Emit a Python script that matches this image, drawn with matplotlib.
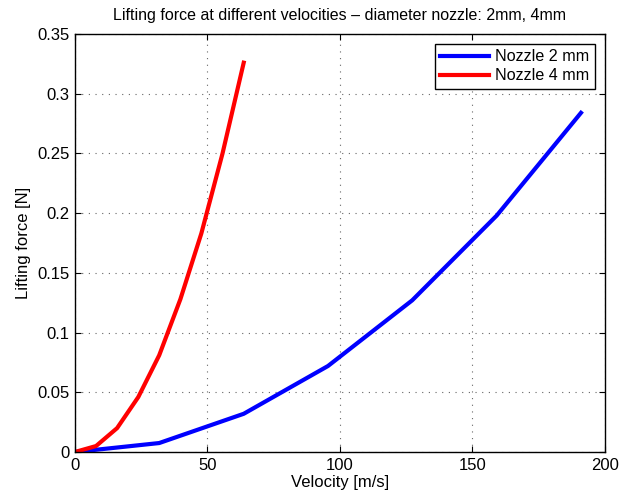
import matplotlib
matplotlib.use("Agg")
import matplotlib.pyplot as plt

plt.rcParams['font.family'] = ['Liberation Sans', 'DejaVu Sans']

# Velocity [m/s] and lifting force [N] for the two nozzle diameters
velocity_2mm = [0, 31.8, 63.7, 95.5, 127.3, 159.2, 191.0]
force_2mm = [0, 0.0075, 0.032, 0.072, 0.127, 0.198, 0.284]

velocity_4mm = [0, 7.96, 15.9, 23.9, 31.8, 39.8, 47.7, 55.7, 63.7]
force_4mm = [0, 0.005, 0.020, 0.046, 0.081, 0.128, 0.183, 0.250, 0.326]

x_ticks = [0, 50, 100, 150, 200]
y_ticks = [0, 0.05, 0.1, 0.15, 0.2, 0.25, 0.3, 0.35]
y_tick_labels = ['0', '0.05', '0.1', '0.15', '0.2', '0.25', '0.3', '0.35']

fig = plt.figure(figsize=(6.3, 5.0), dpi=100)
ax = fig.add_axes([0.119, 0.096, 0.841, 0.836])

ax.plot(velocity_2mm, force_2mm, color='#0000ff', lw=3.0, label='Nozzle 2 mm')
ax.plot(velocity_4mm, force_4mm, color='#ff0000', lw=3.0, label='Nozzle 4 mm')

ax.set_xlim(0, 200)
ax.set_ylim(0, 0.35)
ax.set_xticks(x_ticks)
ax.set_yticks(y_ticks)
ax.set_yticklabels(y_tick_labels)
ax.tick_params(direction='in', top=True, right=True, labelsize=12, length=4, width=0.8, pad=4)
ax.grid(True, linestyle=(0, (1, 5)), color='#666666', linewidth=0.8)
for s in ax.spines.values():
    s.set_linewidth(1.0)

ax.set_xlabel('Velocity [m/s]', fontsize=12, labelpad=2)
ax.set_ylabel('Lifting force [N]', fontsize=12, labelpad=4)
ax.set_title('Lifting force at different velocities \u2013 diameter nozzle: 2mm, 4mm', fontsize=11.5, pad=10)

leg = ax.legend(loc='upper right', fontsize=11.6, fancybox=False, edgecolor='black',
                framealpha=1, borderaxespad=0.6, handlelength=3.0, handletextpad=0.4,
                borderpad=0.35, labelspacing=0.25)
leg.get_frame().set_linewidth(1.0)

fig.savefig('out.png', dpi=100)
